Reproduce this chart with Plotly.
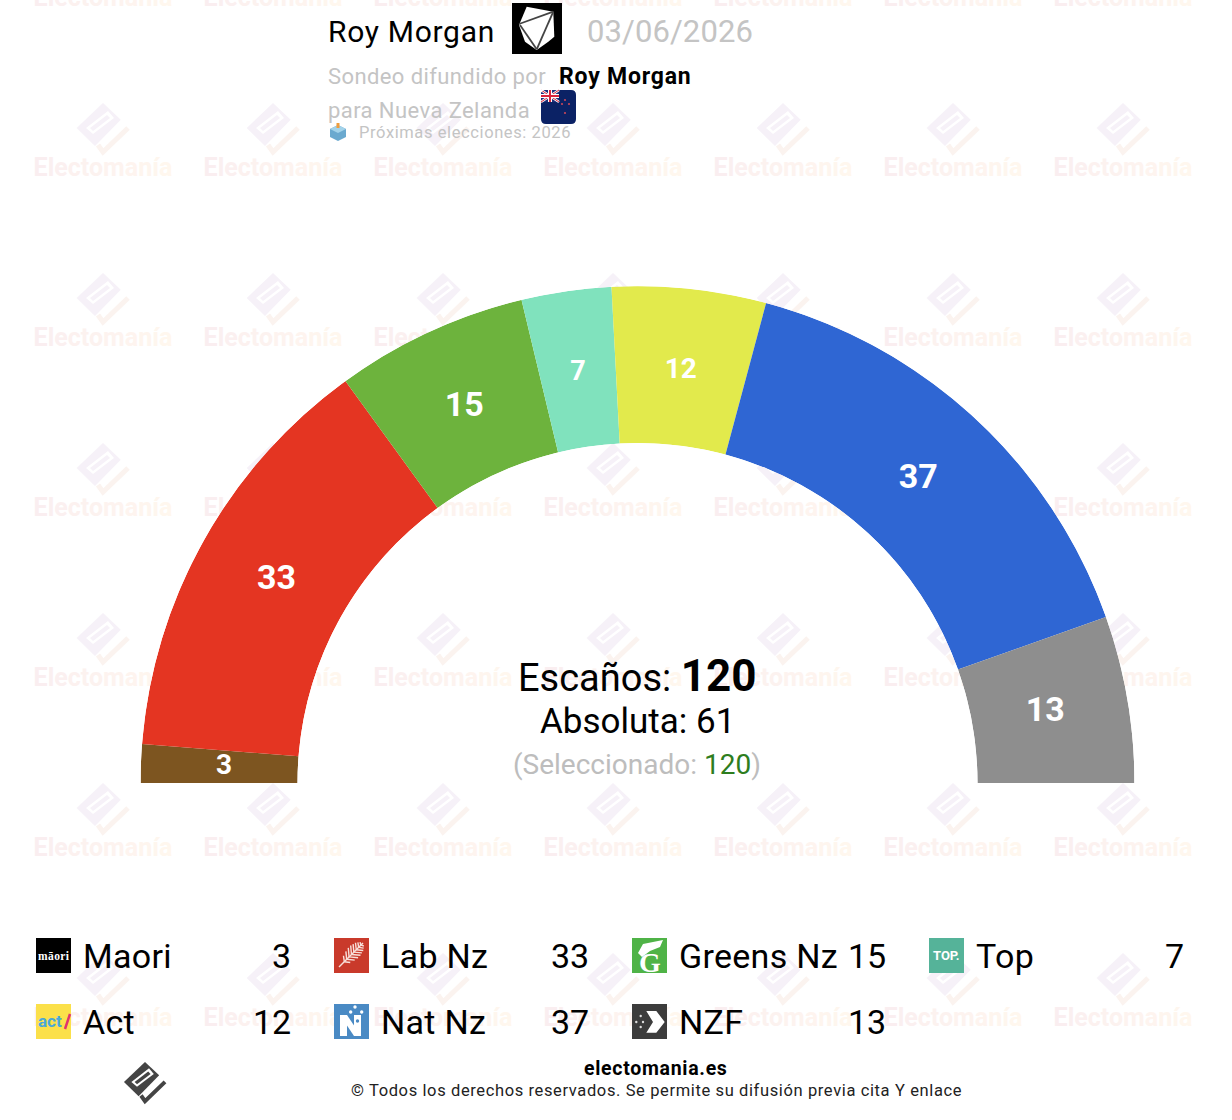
import plotly.graph_objects as go

# ---------- data ----------
parties = ["Maori", "Lab Nz", "Greens Nz", "Top", "Act", "Nat Nz", "NZF"]
seats = [3, 33, 15, 7, 12, 37, 13]
colors = ["#7d5520", "#e43522", "#6db33d", "#80e2bd", "#e2ea4c", "#2f66d3", "#8e8e8e"]
label_sizes = [28, 34, 34, 27, 28, 34, 34]

W, H = 1232, 1120
FONT = "Roboto"
total = sum(seats)

shapes, ann = [], []


def sp(s, px):
    return f"<span style='letter-spacing:{px}px'>{s}</span>"


def text(x, y, s, size, color="#000", anchor="left", family=FONT):
    ann.append(dict(x=x, y=y, xref="x", yref="y", text=s, showarrow=False, xanchor=anchor,
                    yanchor="middle", borderpad=0, borderwidth=0,
                    font=dict(family=family, size=size, color=color)))


def rect(x0, y0, x1, y1, fill, layer="above"):
    shapes.append(dict(type="rect", xref="x", yref="y", x0=x0, y0=y0, x1=x1, y1=y1,
                       fillcolor=fill, line_width=0, layer=layer))


def dot(cx, cy, r, fill):
    shapes.append(dict(type="circle", xref="x", yref="y", x0=cx - r, y0=cy - r, x1=cx + r, y1=cy + r,
                       fillcolor=fill, line_width=0, layer="above"))


def path(pts, fill=None, stroke=None, w=0, close=True, layer="above", ox=0, oy=0, k=1.0):
    d = "M " + " L ".join(f"{ox + k * a:.2f},{oy + k * b:.2f}" for a, b in pts) + (" Z" if close else "")
    shapes.append(dict(type="path", xref="x", yref="y", path=d, layer=layer,
                       fillcolor=fill if fill else "rgba(0,0,0,0)",
                       line=dict(color=stroke if stroke else "rgba(0,0,0,0)", width=w)))


def logo(ox, oy, k, c_main, c_check, c_hole, layer):
    """Electomania diamond-and-tick mark around (ox, oy)."""
    path([(0, -27), (17.7, -10.3), (-8, 16), (-26.3, -2)], fill=c_main, layer=layer, ox=ox, oy=oy, k=k)
    path([(5, -19), (11, -12), (-10, 4), (-17, -2)], fill=c_hole, layer=layer, ox=ox, oy=oy, k=k)
    path([(4, -15), (7, -12), (-10, 1), (-13, -2)], fill=c_main, layer=layer, ox=ox, oy=oy, k=k)
    path([(-5, 15), (0, 22), (25, -2)], stroke=c_check, w=5 * k, close=False, layer=layer, ox=ox, oy=oy, k=k)


# ---------- watermark ----------
wm_x, wm_y, wm_t = [], [], []
letters = "Electomanía"
g0, g1 = (250, 238, 240), (255, 247, 238)
wm_html = ""
for i, ch in enumerate(letters):
    t = i / (len(letters) - 1)
    c = tuple(round(a + (b - a) * t) for a, b in zip(g0, g1))
    wm_html += f"<span style='color:rgb{c}'>{ch}</span>"

for r in range(7):
    for q in range(8):
        cx, cy = 103 + 170 * q, -3 + 170 * r
        wm_x.append(cx)
        wm_y.append(cy + 3)
        wm_t.append(wm_html)
        logo(cx, cy - 37, 1.0, "#f6f1f8", "#fbf3ef", "#ffffff", "below")

# ---------- traces ----------
fig = go.Figure()
fig.add_trace(go.Scatter(x=wm_x, y=wm_y, mode="text", text=wm_t, hoverinfo="skip", showlegend=False,
                         textposition="middle center", cliponaxis=False,
                         textfont=dict(family=FONT, size=25, weight=700, color="#f9ecea")))

deg = [s * 180 / total for s in seats]
mids = [(sum(seats[:i]) + seats[i] / 2) * 180 / total for i in range(len(seats))]
fig.add_trace(go.Barpolar(r=[1] * len(seats), theta=mids, width=deg, base=0, marker=dict(color=colors, line_width=0),
                          text=parties, hoverinfo="text", showlegend=False))
fig.add_trace(go.Scatterpolar(r=[0.47] * len(seats), theta=mids, mode="text", text=[str(s) for s in seats],
                              textposition="middle center", hoverinfo="skip", showlegend=False,
                              textfont=dict(family=FONT, size=label_sizes, color="#fff", weight=700)))

# ---------- header ----------
text(328, 31.5, sp("Roy Morgan", 0.7), 30)
rect(512, 3, 562, 54, "#000")
path([(526.7, 6.7), (553.3, 11.7), (554.3, 36.7), (548.3, 41.7), (536.7, 50), (525, 41.7), (519, 25)], fill="#fff")
for seg in ([(519, 24), (553.3, 11.7)], [(553.3, 11.7), (536.7, 49.3)], [(520, 25), (536.7, 49.3)]):
    path(seg, stroke="#444", w=1.8, close=False)
text(587, 31.5, sp("03/06/2026", 0.1), 31, "#c4c4c4")
text(328, 76, sp("Sondeo difundido por", 0.4), 22, "#c4c4c4")
text(559, 76, "<b>" + sp("Roy Morgan", 0.8) + "</b>", 23, "#000")
text(328, 110, sp("para Nueva Zelanda", 0.42), 22, "#c4c4c4")
# flag
shapes.append(dict(type="path", xref="x", yref="y", layer="above", fillcolor="#0b2265", line_width=0,
                   path="M 546,90 L 571,90 Q 576,90 576,95 L 576,119 Q 576,124 571,124 L 546,124 "
                        "Q 541,124 541,119 L 541,95 Q 541,90 546,90 Z"))
rect(541, 90, 559, 102, "#1d2f7a")
for seg, c, w in (([(541, 90), (559, 102)], "#fff", 2.5), ([(559, 90), (541, 102)], "#fff", 2.5),
                  ([(541, 90), (559, 102)], "#d8233c", 1), ([(559, 90), (541, 102)], "#d8233c", 1),
                  ([(550, 90), (550, 102)], "#fff", 4), ([(541, 96), (559, 96)], "#fff", 4),
                  ([(550, 90), (550, 102)], "#d8233c", 2), ([(541, 96), (559, 96)], "#d8233c", 2)):
    path(seg, stroke=c, w=w, close=False)
shapes.append(dict(type="path", xref="x", yref="y", layer="above", fillcolor="#fff", line_width=0,
                   path="M 540.5,89.5 L 546,89.5 Q 541,90 540.5,95 Z"))
for sx, sy in ((565, 100), (569, 104), (562, 104), (565, 113)):
    dot(sx, sy, 1.1, "#c8475a")
# ballot box
path([(338, 125), (346, 129), (346, 137), (338, 141), (330, 137), (330, 129)], fill="#6aa9cf")
path([(330, 129), (338, 133), (346, 129), (338, 125)], fill="#a3d3ea")
rect(336.5, 123, 339.5, 128, "#ee9d3f")
text(359, 132, sp("Próximas elecciones: 2026", 0.6), 16.5, "#c4c4c4")

# ---------- centre ----------
text(637, 675.5, "Escaños: <b><span style='font-size:44px'>120</span></b>", 38, "#000", "center")
text(637, 721, "Absoluta: 61", 35, "#000", "center")
text(637, 764, "(Seleccionado: <span style='color:#2e7d1e'>120</span>)", 28, "#bdbdbd", "center")

# ---------- legend ----------
cols_left = [36, 334, 632, 929]
cols_right = [291, 588.5, 886, 1184]
rows_mid = [956, 1022]
icon_fill = ["#000000", "#c93a2b", "#4fb347", "#55b399", "#fbe04a", "#4a8ac4", "#3c3c3c"]
for i, (p, s) in enumerate(zip(parties, seats)):
    row, col = (0, i) if i < 4 else (1, i - 4)
    xl, ym = cols_left[col], rows_mid[row]
    rect(xl, ym - 18, xl + 35, ym + 17, icon_fill[i])
    text(xl + 47, ym, sp(p, 0.3), 34)
    text(cols_right[col], ym, str(s), 34, "#000", "right")

# icon details
x, y = cols_left[0], rows_mid[0]
text(x + 17.5, y, "<b>" + sp("māori", 0.4) + "</b>", 11.5, "#fff", "center", "Liberation Serif")
# fern
x, y = cols_left[1], rows_mid[0]
x0f, y0f, x1f, y1f = x + 5, y + 11, x + 29, y - 13
path([(x0f, y0f), (x1f, y1f)], stroke="#f8e0da", w=1.4, close=False)
for t, ln in ((0.22, 6), (0.32, 8), (0.42, 9), (0.52, 9), (0.62, 8), (0.72, 7), (0.82, 5), (0.91, 3)):
    px, py = x0f + (x1f - x0f) * t, y0f + (y1f - y0f) * t
    path([(px, py), (px + ln, py + 0.8)], stroke="#f8e0da", w=1.4, close=False)
    path([(px, py), (px - 0.8, py - ln)], stroke="#f8e0da", w=1.4, close=False)
# greens
x, y = cols_left[2], rows_mid[0]
path([(x + 6, y - 3), (x + 11, y - 12), (x + 31, y - 16), (x + 28, y - 9), (x + 18, y - 5), (x + 10, y + 1)], fill="#fff")
text(x + 18, y + 6, "<b>G</b>", 28, "#fff", "center", "Liberation Serif")
x, y = cols_left[3], rows_mid[0]
text(x + 17.5, y - 1, "<b>TOP.</b>", 13, "#fff", "center")
x, y = cols_left[0], rows_mid[1]
text(x + 14, y - 1, "<b>act</b>", 17, "#4aa8d8", "center")
path([(x + 29, y + 7), (x + 34, y - 8)], stroke="#e0336e", w=2.5, close=False)
# national
x, y = cols_left[1], rows_mid[1]
rect(x + 6, y - 7, x + 13, y + 14, "#fff")
rect(x + 20, y - 7, x + 27, y + 14, "#fff")
path([(x + 6, y - 7), (x + 13, y - 7), (x + 27, y + 14), (x + 20, y + 14)], fill="#fff")
for dx, dy in ((16.7, -10), (21, -15), (27.7, -10)):
    dot(x + dx, y + dy, 1.7, "#fff")
dot(x + 23.5, y - 1, 1.7, "#4a8ac4")
# nzf
x, y = cols_left[2], rows_mid[1]
path([(x + 14.3, y - 11), (x + 24.3, y - 11), (x + 32.7, y), (x + 24.3, y + 10.7), (x + 14.3, y + 10.7), (x + 21, y)],
     fill="#fff")
for dx, dy in ((4.3, 0), (8.7, -6), (8.7, 5), (11, 0)):
    dot(x + dx, y + dy, 1.2, "#ddd")

# ---------- footer ----------
logo(145, 1083.5, 0.8, "#444444", "#444444", "#ffffff", "above")
text(655.5, 1068, "<b>" + sp("electomania.es", 0.7) + "</b>", 19.5, "#000", "center")
text(656, 1090, sp("© Todos los derechos reservados. Se permite su difusión previa cita Y enlace", 0.62), 16.5,
     "#222", "center")

fig.update_layout(
    width=W, height=H, margin=dict(l=0, r=0, t=0, b=0), showlegend=False,
    paper_bgcolor="#fff", plot_bgcolor="#fff", font=dict(family=FONT),
    xaxis=dict(range=[0, W], visible=False, fixedrange=True, domain=[0, 1]),
    yaxis=dict(range=[H, 0], visible=False, fixedrange=True, domain=[0, 1]),
    polar=dict(
        domain=dict(x=[140.5 / W, 1134.5 / W], y=[1 - 783 / H, 1 - 286 / H]),
        sector=[0, 180], hole=340 / 497, bgcolor="rgba(0,0,0,0)",
        angularaxis=dict(visible=False, direction="clockwise", rotation=180, thetaunit="degrees"),
        radialaxis=dict(visible=False, range=[0, 1]),
    ),
    shapes=shapes, annotations=ann,
)
fig.write_html("out.html", config=dict(displayModeBar=False),
               post_script="document.body.style.margin='0';document.body.style.overflow='hidden';")
